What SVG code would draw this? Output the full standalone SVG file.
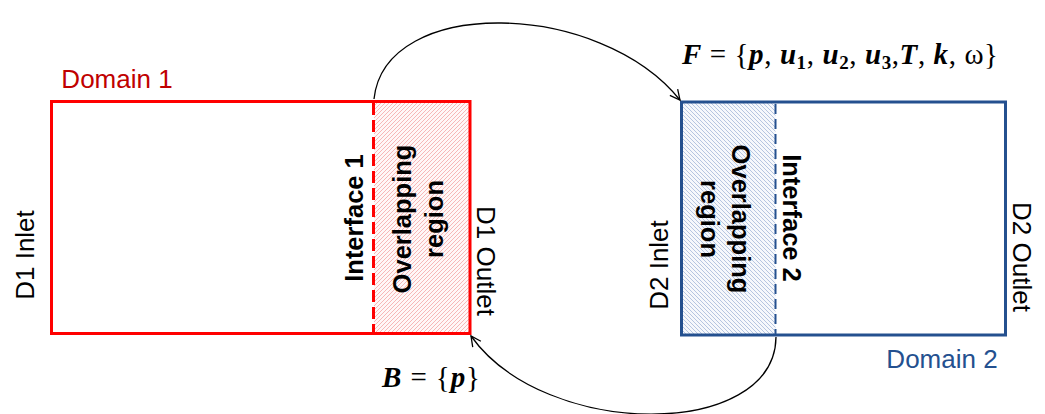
<svg xmlns="http://www.w3.org/2000/svg" width="1045" height="414" viewBox="0 0 1045 414">
<style>
.lbl{font-family:"Liberation Sans",Arial,sans-serif;font-size:26px;fill:#000;text-anchor:middle}
.bold{font-family:"Liberation Sans",Arial,sans-serif;font-size:25.5px;font-weight:bold;fill:#000;text-anchor:middle}
.math{font-family:"Liberation Serif","Times New Roman",serif;font-size:29px;fill:#000}
.bi{font-weight:bold;font-style:italic}
.sub{font-weight:bold;font-size:19px}
.conn{fill:none;stroke:#000;stroke-width:1.3}
</style>
<defs>
<pattern id="hatchRed" patternUnits="userSpaceOnUse" width="4" height="4">
<rect width="4" height="4" fill="#fff7f7"/>
<path d="M-1,1 l2,-2 M0,4 l4,-4 M3,5 l2,-2" stroke="#f5b0b0" stroke-width="0.9"/>
</pattern>
<pattern id="hatchBlue" patternUnits="userSpaceOnUse" width="4" height="4">
<rect width="4" height="4" fill="#f6f8fc"/>
<path d="M-1,3 l2,2 M0,0 l4,4 M3,-1 l2,2" stroke="#afc0dc" stroke-width="0.9"/>
</pattern>
<marker id="arr" markerUnits="userSpaceOnUse" markerWidth="14" markerHeight="14" refX="11" refY="6" orient="auto">
<path d="M1,1 L11,6 L1,11" fill="none" stroke="#000" stroke-width="1.3"/>
</marker>
</defs>

<g id="domain1">
<rect x="374" y="101.5" width="96" height="232" fill="url(#hatchRed)"/>
<rect x="51.5" y="101.5" width="418.5" height="232" fill="none" stroke="#ff0000" stroke-width="3"/>
<line x1="373.5" y1="103" x2="373.5" y2="332" stroke="#ff0000" stroke-width="3" stroke-dasharray="12,5"/>
<text x="117" y="88" class="lbl" style="fill:#c00000">Domain 1</text>
<text class="lbl" transform="translate(25,255) rotate(-90)" x="0" y="9">D1 Inlet</text>
<text class="bold" transform="translate(353,218) rotate(-90)" x="0" y="10">Interface 1</text>
<text class="bold" transform="translate(420,219) rotate(-90)"><tspan x="0" y="-9">Overlapping</tspan><tspan x="0" y="23">region</tspan></text>
<text class="lbl" transform="translate(487,261) rotate(90)" x="0" y="10">D1 Outlet</text>
</g>

<g id="domain2">
<rect x="681.5" y="102" width="94" height="233" fill="url(#hatchBlue)"/>
<rect x="681.5" y="102" width="324" height="233" fill="none" stroke="#24508f" stroke-width="3"/>
<line x1="775.5" y1="104" x2="775.5" y2="334" stroke="#24508f" stroke-width="2" stroke-dasharray="10,5"/>
<text x="942" y="368" class="lbl" style="fill:#24508f">Domain 2</text>
<text class="lbl" transform="translate(658,265) rotate(-90)" x="0" y="10">D2 Inlet</text>
<text class="bold" transform="translate(728,219) rotate(90)"><tspan x="0" y="-4">Overlapping</tspan><tspan x="0" y="27">region</tspan></text>
<text class="bold" transform="translate(793,218) rotate(90)" x="0" y="10">Interface 2</text>
<text class="lbl" transform="translate(1023,257) rotate(90)" x="0" y="10">D2 Outlet</text>
</g>

<g id="connectors">
<path class="conn" d="M374,99 C385,-5 600,0 680,100" marker-end="url(#arr)"/>
<path class="conn" d="M776,337 C775,440 545,440 471,336" marker-end="url(#arr)"/>
</g>

<g id="labels">
<text class="math" x="682" y="64" textLength="316" lengthAdjust="spacing"><tspan class="bi">F</tspan> = {<tspan class="bi">p</tspan>, <tspan class="bi">u</tspan><tspan class="sub" dy="5">1</tspan><tspan dy="-5">, </tspan><tspan class="bi">u</tspan><tspan class="sub" dy="5">2</tspan><tspan dy="-5">, </tspan><tspan class="bi">u</tspan><tspan class="sub" dy="5">3</tspan><tspan dy="-5">,</tspan><tspan class="bi">T</tspan>, <tspan class="bi">k</tspan>, ω}</text>
<text class="math" x="382" y="387" textLength="98" lengthAdjust="spacing"><tspan class="bi">B</tspan> = {<tspan class="bi">p</tspan>}</text>
</g>
</svg>
